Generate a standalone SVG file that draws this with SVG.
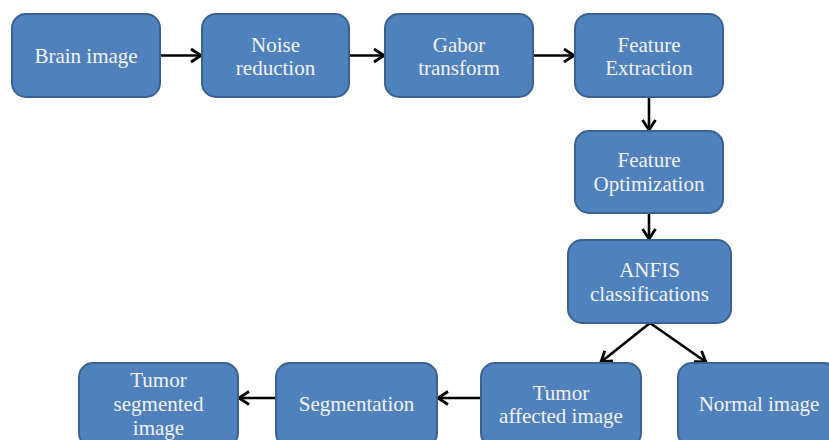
<svg xmlns="http://www.w3.org/2000/svg" width="829" height="440" viewBox="0 0 829 440">
<style>
.box{fill:#4F81BD;stroke:#3A6190;stroke-width:2}
.t{font-family:"Liberation Serif","Times New Roman",serif;font-size:21px;fill:#F2F2F2;text-anchor:middle}
.c{stroke:#000;stroke-width:2.6;fill:none}
</style>
<defs>
<marker id="ah" markerUnits="userSpaceOnUse" markerWidth="16" markerHeight="18" refX="12" refY="8" orient="auto" viewBox="0 0 16 16">
<path d="M2,1.5 L12,8 L2,14.5" fill="none" stroke="#000" stroke-width="2.8"/>
</marker>
</defs>
<rect width="829" height="440" fill="#fff"/>
<g id="connectors">
<line class="c" x1="160" y1="55.5" x2="201" y2="55.5" marker-end="url(#ah)"/>
<line class="c" x1="349" y1="55.5" x2="384" y2="55.5" marker-end="url(#ah)"/>
<line class="c" x1="533" y1="55.5" x2="574" y2="55.5" marker-end="url(#ah)"/>
<line class="c" x1="649" y1="97" x2="649" y2="130" marker-end="url(#ah)"/>
<line class="c" x1="649" y1="213" x2="649" y2="239" marker-end="url(#ah)"/>
<line class="c" x1="650" y1="323" x2="601" y2="362" marker-end="url(#ah)"/>
<line class="c" x1="650" y1="323" x2="706" y2="362" marker-end="url(#ah)"/>
<line class="c" x1="481" y1="398" x2="438" y2="398" marker-end="url(#ah)"/>
<line class="c" x1="276" y1="398" x2="239" y2="398" marker-end="url(#ah)"/>
</g>
<g id="brain">
<rect class="box" x="12" y="14" width="148" height="83" rx="14"/>
<text class="t" x="86" y="63">Brain image</text>
</g>
<g id="noise">
<rect class="box" x="202" y="14" width="147" height="83" rx="14"/>
<text class="t" x="275.5" y="52">Noise</text>
<text class="t" x="275.5" y="75">reduction</text>
</g>
<g id="gabor">
<rect class="box" x="385" y="14" width="148" height="83" rx="14"/>
<text class="t" x="459" y="52">Gabor</text>
<text class="t" x="459" y="75">transform</text>
</g>
<g id="extraction">
<rect class="box" x="575" y="14" width="148" height="83" rx="14"/>
<text class="t" x="649" y="52">Feature</text>
<text class="t" x="649" y="75">Extraction</text>
</g>
<g id="optimization">
<rect class="box" x="575" y="131" width="148" height="82" rx="14"/>
<text class="t" x="649" y="167">Feature</text>
<text class="t" x="649" y="191">Optimization</text>
</g>
<g id="anfis">
<rect class="box" x="568" y="240" width="163" height="83" rx="14"/>
<text class="t" x="649.5" y="277">ANFIS</text>
<text class="t" x="649.5" y="301">classifications</text>
</g>
<g id="tumor-affected">
<rect class="box" x="481" y="363" width="160" height="84" rx="14"/>
<text class="t" x="561" y="400">Tumor</text>
<text class="t" x="561" y="423">affected image</text>
</g>
<g id="normal">
<rect class="box" x="678" y="363" width="160" height="84" rx="14"/>
<text class="t" x="759" y="411">Normal image</text>
</g>
<g id="segmentation">
<rect class="box" x="276" y="363" width="161" height="84" rx="14"/>
<text class="t" x="356.5" y="411">Segmentation</text>
</g>
<g id="tumor-segmented">
<rect class="box" x="79" y="363" width="159" height="84" rx="14"/>
<text class="t" x="158.5" y="387">Tumor</text>
<text class="t" x="158.5" y="411">segmented</text>
<text class="t" x="158.5" y="435">image</text>
</g>
</svg>
